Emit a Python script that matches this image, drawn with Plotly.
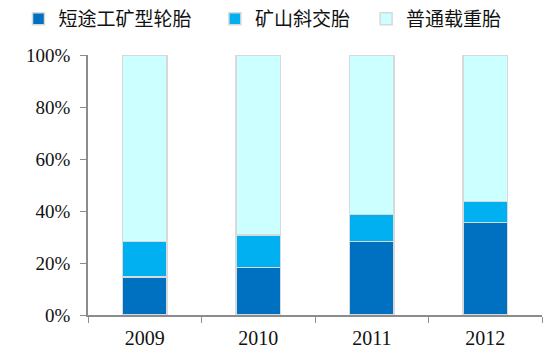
import plotly.graph_objects as go

years = ["2009", "2010", "2011", "2012"]
short_mine = [14.6, 18.3, 28.3, 35.6]
bias_mine = [13.7, 12.5, 10.4, 8.0]
general_heavy = [71.7, 69.2, 61.3, 56.4]

names = ["短途工矿型轮胎", "矿山斜交胎", "普通载重胎"]
colors = ["#0070C0", "#00B0F0", "#CCFFFF"]
series = [short_mine, bias_mine, general_heavy]
legend_ids = ["legend", "legend2", "legend3"]
legend_x = [0.034, 0.395, 0.673]

fig = go.Figure()
for n, c, s, lg in zip(names, colors, series, legend_ids):
    fig.add_trace(go.Bar(
        x=years, y=s, name=n, legend=lg,
        marker=dict(color=c, line=dict(color="#d9d9d9", width=1.5)),
        width=0.39,
    ))

legend_style = dict(
    orientation="h", xref="container", y=1.0, yref="container",
    xanchor="left", yanchor="top",
    font=dict(family="Noto Sans CJK SC", size=19, color="#111"),
    bgcolor="rgba(0,0,0,0)",
)

fig.update_layout(
    barmode="stack",
    width=544, height=354,
    margin=dict(l=88, r=2, t=55, b=39),
    paper_bgcolor="white", plot_bgcolor="white",
    showlegend=True,
    legend=dict(x=legend_x[0], **legend_style),
    legend2=dict(x=legend_x[1], **legend_style),
    legend3=dict(x=legend_x[2], **legend_style),
    xaxis=dict(
        showline=True, linecolor="#8c8c8c", linewidth=1.5,
        ticks="outside", tickson="boundaries", ticklen=6, tickcolor="#8c8c8c",
        tickfont=dict(family="Liberation Serif", size=20, color="#111"),
        ticklabelstandoff=4,
        showgrid=False,
    ),
    yaxis=dict(
        range=[0, 100], dtick=20, ticksuffix="%",
        showline=True, linecolor="#8c8c8c", linewidth=1.5,
        ticks="outside", ticklen=6, tickcolor="#8c8c8c",
        tickfont=dict(family="Liberation Serif", size=19, color="#111"),
        ticklabelstandoff=6,
        showgrid=False, zeroline=False,
    ),
)

fig.write_html("out.html")
